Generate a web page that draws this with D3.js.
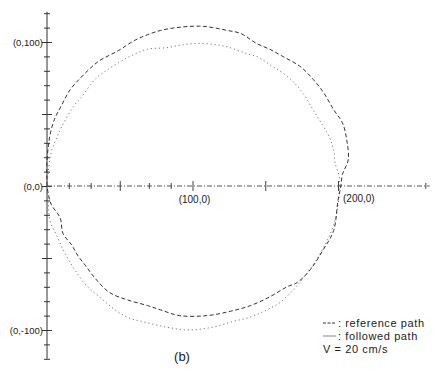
<!DOCTYPE html>
<html><head><meta charset="utf-8">
<script src="https://cdn.jsdelivr.net/npm/d3@7"></script>
<style>
html,body{margin:0;padding:0;background:#fff;}
svg{display:block;}
text{font-family:"Liberation Sans","DejaVu Sans",sans-serif;fill:#222;}
</style></head>
<body>
<svg id="chart" width="435" height="375"></svg>
<script>
// reference path (dashed) – [x, y] in cm
const referencePath = [
 [0,0],[0,18],[1,28],[2,35],[5,46],[10,56],[16,67],[23,75],[30,82],[36,87],[49,94],[60,101],
 [69,105],[78,108],[89,110],[105,111],[114,110],[124,108],[133,106],[144,99],[153,95],[162,90],
 [174,83],[183,74],[190,65],[197,53],[203,44],[206,32],[207,18],[203,8],[202,0],[200,-10],
 [197,-31],[190,-44],[181,-58],[172,-67],[165,-70],[153,-77],[140,-83],[126,-87],[110,-90],
 [91,-90],[78,-86],[69,-83],[55,-79],[43,-74],[33,-64],[27,-56],[21,-48],[17,-41],[11,-33],
 [9,-22],[3,-13],[1,-6],[0,0]
];
// followed path (solid, faint in print) – [x, y]
const followedPath = [
 [0,0],[1,11],[3,24],[7,34],[10,41],[18,55],[23,61],[34,75],[45,83],[57,90],[69,95],[82,96],
 [93,98],[105,99],[117,98],[126,96],[137,92],[146,89],[155,83],[164,77],[174,67],[184,51],
 [194,34],[197,25],[198,16],[201,6],[201,0],[200,-13],[197,-27],[191,-41],[182,-56],[172,-69],
 [160,-81],[151,-86],[140,-91],[128,-94],[114,-98],[98,-100],[82,-98],[65,-94],[57,-92],
 [48,-87],[36,-77],[27,-69],[19,-58],[12,-46],[7,-35],[2,-24],[1,-13],[0,0]
];
const yTicks = d3.range(-120, 121, 10);
const xTicks = [15,30,50,70,85,100,150,200,260];
const yLabels = [[0,100,"(0,100)"],[0,0,"(0,0)"],[0,-100,"(0,-100)"]];
const xLabels = [[100,0,"(100,0)"],[200,0,"(200,0)"]];
const legendItems = [": reference path", ": followed  path"];
const speedLabel = "V = 20 cm/s";
const panelLabel = "(b)";

const svg = d3.select("#chart");
const x = d3.scaleLinear().domain([0, 200]).range([47, 338]);
const y = d3.scaleLinear().domain([-100, 100]).range([330, 42]);

// y axis
const gy = svg.append("g").attr("transform", `translate(${x(0)},0)`)
  .call(d3.axisLeft(y).tickValues(yTicks).tickSize(3).tickFormat(""));
gy.select(".domain").attr("d", `M0,${y(-120)}V${y(121)}`).attr("stroke", "#333").attr("stroke-width", 1);
gy.selectAll(".tick line").attr("x1", -3).attr("x2", 3).attr("stroke", "#333");
gy.selectAll(".tick").filter(d => d % 50 === 0).select("line").attr("x1", -5).attr("x2", 5);

// x axis
const gx = svg.append("g").attr("transform", `translate(0,${y(0)})`)
  .call(d3.axisBottom(x).tickValues(xTicks).tickSize(2).tickFormat(""));
gx.select(".domain").attr("d", `M${x(0)},0H${x(263)}`).attr("stroke", "#555")
  .attr("stroke-dasharray", "5,2,1,2").attr("stroke-width", 1);
gx.selectAll(".tick line").attr("y1", -3).attr("y2", 3).attr("stroke", "#444");
gx.selectAll(".tick").filter(d => d % 50 === 0).select("line").attr("y1", -5).attr("y2", 5);

const line = d3.line().x(d => x(d[0])).y(d => y(d[1])).curve(d3.curveCatmullRom.alpha(0.5));

svg.append("path").datum(followedPath).attr("d", line)
  .attr("fill", "none").attr("stroke", "#777").attr("stroke-width", 1)
  .attr("stroke-dasharray", "1.2,2.8");
svg.append("path").datum(referencePath).attr("d", line)
  .attr("fill", "none").attr("stroke", "#333").attr("stroke-width", 1)
  .attr("stroke-dasharray", "4,2.5");

// axis labels
svg.selectAll("text.ylab").data(yLabels).join("text").attr("class", "ylab")
  .attr("x", d => x(d[0]) - 4).attr("y", d => y(d[1]) + 3.5)
  .attr("text-anchor", "end").attr("font-size", 9.5).text(d => d[2]);
svg.append("text").attr("x", x(xLabels[0][0]) + 2).attr("y", y(0) + 17)
  .attr("text-anchor", "middle").attr("font-size", 10).text(xLabels[0][2]);
svg.append("text").attr("x", x(xLabels[1][0]) + 5).attr("y", y(0) + 16)
  .attr("text-anchor", "start").attr("font-size", 10).text(xLabels[1][2]);

// legend
const lg = svg.append("g");
lg.append("line").attr("x1", 323).attr("x2", 336).attr("y1", 323).attr("y2", 323)
  .attr("stroke", "#333").attr("stroke-dasharray", "3,1.5");
lg.append("line").attr("x1", 323).attr("x2", 336).attr("y1", 336).attr("y2", 336)
  .attr("stroke", "#888");
lg.selectAll("text.lg").data(legendItems).join("text").attr("class", "lg")
  .attr("x", 338).attr("y", (d, i) => 327 + i * 13).attr("font-size", 11)
  .attr("letter-spacing", 0.6).text(d => d);
lg.append("text").attr("x", 323).attr("y", 353).attr("font-size", 11)
  .attr("letter-spacing", 0.6).text(speedLabel);

svg.append("text").attr("x", 182).attr("y", 361).attr("text-anchor", "middle")
  .attr("font-size", 13).text(panelLabel);
</script>
</body></html>
